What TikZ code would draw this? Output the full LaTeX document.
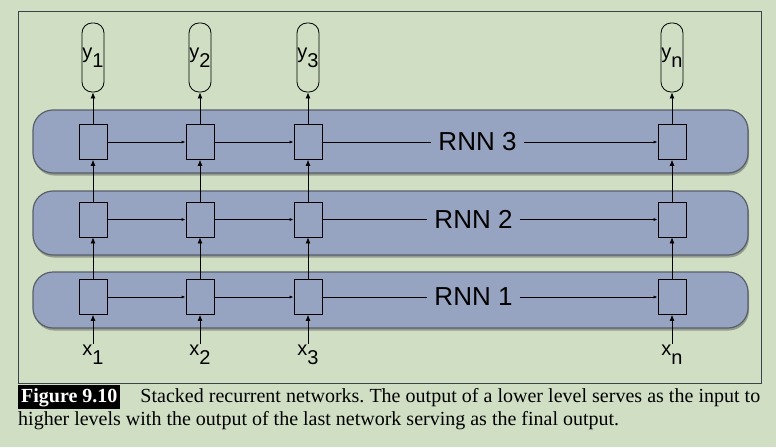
\documentclass[tikz,border=0pt]{standalone}
\usepackage{fontspec}
\setmainfont{Liberation Serif}
\setsansfont{Liberation Sans}
\usetikzlibrary{positioning, shapes, arrows.meta, shadows}
\definecolor{bggreen}{RGB}{208,223,196}
\definecolor{bandblue}{RGB}{151,164,193}
\definecolor{edgegrey}{RGB}{88,94,106}
\newcommand\Lab[2]{#1\raisebox{-0.45em}{#2}}

\begin{document}
\begin{tikzpicture}[x=1pt, y=-1pt,
band/.style={
  rectangle, rounded corners=20pt,
  draw=edgegrey, line width=1.2pt,
  fill=bandblue,
  minimum width=715pt,
  drop shadow={shadow xshift=1pt, shadow yshift=-2.5pt, opacity=0.45, fill=black!70}
},
cell/.style={rectangle, draw, fill=bandblue, line width=0.8pt,
  minimum width=28pt, minimum height=35pt, inner sep=0pt},
pill/.style={rectangle, draw, rounded corners=10pt, line width=0.8pt,
  minimum width=22pt, minimum height=69pt, inner sep=0pt,
  font=\sffamily\fontsize{20}{24}\selectfont},
inlab/.style={inner sep=1pt, font=\sffamily\fontsize{20}{24}\selectfont},
rnnlab/.style={inner xsep=7pt, inner ysep=0pt, font=\sffamily\fontsize{26}{30}\selectfont},
up/.style={-{Latex[length=6pt,width=5pt]}, line width=0.7pt},
fwd/.style={-{Latex[length=4pt,width=3pt]}, line width=0.7pt}
]
\useasboundingbox (0,0) rectangle (776,447);
\fill[bggreen] (0,0) rectangle (776,447);
\draw[edgegrey!70!black, line width=0.8pt] (18,11) rectangle (761,383);

% the three levels
\node (band3) [band, minimum height=63pt] at (390.5,141.5) {};
\node (band2) [band, minimum height=64pt] at (390.5,223) {};
\node (band1) [band, minimum height=56pt] at (390.5,300) {};

% cells, inputs and outputs
\foreach \col/\x in {1/93, 2/200, 3/308, n/672} {
  \foreach \row/\y in {1/297, 2/219.5, 3/142}
    \node (c\row\col) [cell] at (\x,\y) {};
  \node (y\col) [pill] at (\x,57.5) {\Lab{y}{\col}};
  \node (x\col) [inlab] at (\x,355) {\Lab{x}{\col}};
  \draw[up] (x\col) -- (c1\col);
  \draw[up] (c1\col) -- (c2\col);
  \draw[up] (c2\col) -- (c3\col);
  \draw[up] (c3\col) -- (y\col);
}

\node (rnn3) [rnnlab] at (477.5,142) {RNN 3};
\node (rnn2) [rnnlab] at (473.5,219.5) {RNN 2};
\node (rnn1) [rnnlab] at (473.5,297) {RNN 1};

\foreach \row in {1,2,3} {
  \draw[fwd] (c\row1) -- (c\row2);
  \draw[fwd] (c\row2) -- (c\row3);
  \draw (c\row3) -- (rnn\row);
  \draw[fwd] (rnn\row) -- (c\row n);
}

% caption
\node (cap) [anchor=north west, text width=742pt, inner sep=0pt, align=justify,
  font=\fontsize{20}{23}\selectfont\frenchspacing] at (18,385)
  {\colorbox{black}{\textcolor{white}{\bfseries Figure 9.10}}\hspace{20pt}Stacked recurrent networks. The output of a lower level serves as the input to\linebreak higher levels with the output of the last network serving as the final output.};
\end{tikzpicture}
\end{document}
